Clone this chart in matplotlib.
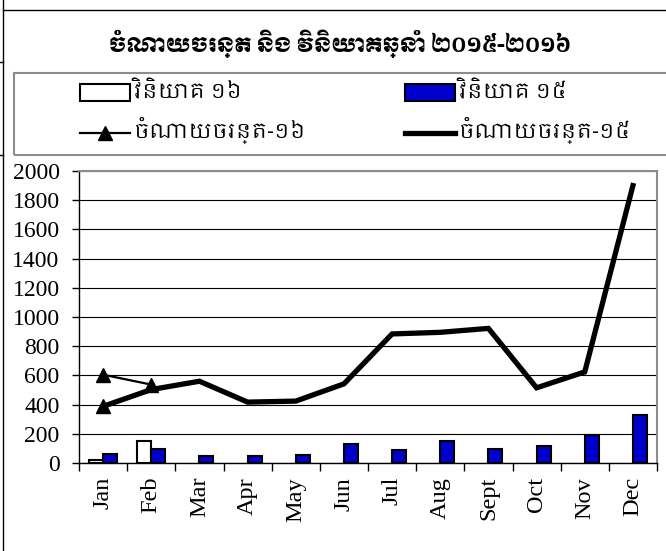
import matplotlib
matplotlib.use("Agg")
import matplotlib.pyplot as plt
from matplotlib.patches import Rectangle
from matplotlib.lines import Line2D
import numpy as np

# data
months = ["Jan", "Feb", "Mar", "Apr", "May", "Jun", "Jul", "Aug", "Sept", "Oct", "Nov", "Dec"]
invest16 = [18, 148]
invest15 = [64, 98, 45, 45, 52, 132, 91, 150, 98, 114, 191, 330]
spend16 = [605, 537]
spend15 = [388, 503, 560, 417, 424, 542, 884, 895, 922, 515, 624, 1900]

title = "ចំណាយចរន្ត និង វិនិយោគឆ្នាំ ២០១៥-២០១៦"
lab_inv16 = "វិនិយោគ ១៦"
lab_inv15 = "វិនិយោគ ១៥"
lab_sp16 = "ចំណាយចរន្ត-១៦"
lab_sp15 = "ចំណាយចរន្ត-១៥"

W, H = 666, 551
BLUE = "#0000CC"
serif = "Liberation Serif"
khmer = ["Khmer", "DejaVu Sans"]


def fx(x):
    return x / W


def fy(y):
    return 1 - y / H


fig = plt.figure(figsize=(W / 100, H / 100), dpi=100)
ax = fig.add_axes([fx(79), fy(463), (657 - 79) / W, (463 - 171) / H])

x = np.arange(len(months))
bw = 0.29
ax.bar(x[:len(invest16)] - bw / 2, invest16, bw, color="white", edgecolor="black", linewidth=1.5, zorder=3)
ax.bar(x + bw / 2, invest15, bw, color=BLUE, edgecolor="black", linewidth=1.5, zorder=3)
ax.plot(x, spend15, color="black", lw=3.8, marker="^", markersize=10, markevery=[0], zorder=4,
        solid_joinstyle="miter")
ax.plot(x[:len(spend16)], spend16, color="black", lw=1.6, marker="^", markersize=10, zorder=5)

ax.set_xlim(-0.5, len(months) - 0.5)
ax.set_ylim(0, 2000)
ax.set_yticks(np.arange(0, 2001, 200))
ax.yaxis.grid(True, color="black", lw=0.8, zorder=0)
ax.set_axisbelow(True)
ax.set_xticks(x)
ax.set_xticklabels(months, rotation=90, fontfamily=serif, fontsize=17.5)
ax.set_xticks(np.arange(-0.5, len(months)), minor=True)
ax.tick_params(axis="x", which="major", length=0, pad=10)
ax.tick_params(axis="x", which="minor", length=6, width=1, direction="out")
ax.tick_params(axis="y", length=5, width=1, direction="out", pad=9, labelsize=17)
for t in ax.get_yticklabels():
    t.set_fontfamily(serif)
for s in ["left", "bottom"]:
    ax.spines[s].set_color("black")
    ax.spines[s].set_linewidth(1)
for s in ["top", "right"]:
    ax.spines[s].set_color("#8c8c8c")
    ax.spines[s].set_linewidth(1.5)

# title
fig.text(fx(340), fy(44), title, ha="center", va="center", fontsize=14.2,
         family=["Moul", "DejaVu Sans"])

# legend box, drawn by hand to sit like the original
fig.add_artist(Rectangle((fx(14), fy(155)), (700 - 14) / W, (155 - 73) / H, transform=fig.transFigure,
                         facecolor="none", edgecolor="#8c8c8c", lw=1.5, clip_on=False))
fig.add_artist(Rectangle((fx(80), fy(101)), 50 / W, 17 / H, transform=fig.transFigure,
                         facecolor="white", edgecolor="black", lw=1.5))
fig.add_artist(Rectangle((fx(405), fy(101)), 50 / W, 17 / H, transform=fig.transFigure,
                         facecolor=BLUE, edgecolor="black", lw=1.5))
fig.add_artist(Line2D([fx(80), fx(130)], [fy(133), fy(133)], transform=fig.transFigure,
                      color="black", lw=1.6))
fig.add_artist(Line2D([fx(105)], [fy(133)], transform=fig.transFigure, color="black",
                      marker="^", markersize=10))
fig.add_artist(Line2D([fx(405), fx(455)], [fy(133), fy(133)], transform=fig.transFigure,
                      color="black", lw=3.8))
fig.text(fx(134), fy(91), lab_inv16, va="center", fontsize=15, family=khmer)
fig.text(fx(459), fy(91), lab_inv15, va="center", fontsize=15, family=khmer)
fig.text(fx(134), fy(130), lab_sp16, va="center", fontsize=15, family=khmer)
fig.text(fx(459), fy(130), lab_sp15, va="center", fontsize=15, family=khmer)

# page frame bits around the chart
fig.add_artist(Line2D([fx(3), 1], [fy(10), fy(10)], transform=fig.transFigure, color="black", lw=1))
fig.add_artist(Line2D([fx(3), fx(3)], [fy(0), fy(H)], transform=fig.transFigure, color="black", lw=1))
for yy in (62, 155):
    fig.add_artist(Line2D([0, fx(3)], [fy(yy), fy(yy)], transform=fig.transFigure, color="black", lw=1))

fig.savefig("out.png", dpi=100)
